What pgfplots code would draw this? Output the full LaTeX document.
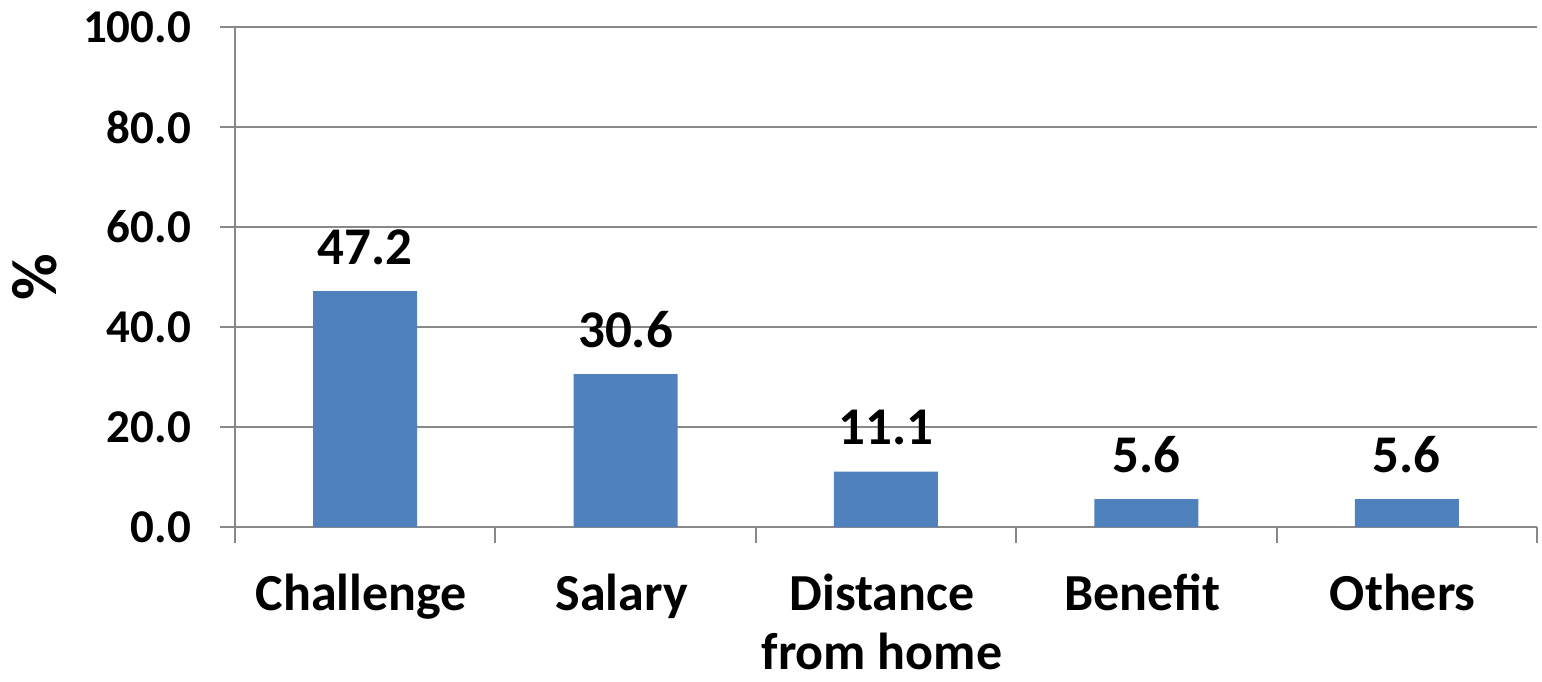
\documentclass[border=0pt]{standalone}
\usepackage{pgfplots}
\pgfplotsset{compat=1.18}
\usepackage{fontspec}
\setmainfont{Carlito}
\definecolor{barblue}{HTML}{4F81BD}
\definecolor{gridgray}{HTML}{888888}
\begin{document}
\begin{tikzpicture}
\useasboundingbox (-117.5pt,-77pt) rectangle (653.5pt,263.5pt);
\begin{axis}[
  at={(0,0)}, anchor=south west,
  scale only axis, width=651pt, height=250pt,
  /pgf/number format/assume math mode=true,
  xmin=-0.5, xmax=4.5, ymin=0, ymax=100,
  ybar, bar width=52pt,
  xtick={0,1,2,3,4},
  xticklabels={Challenge,Salary,{Distance\\from home},Benefit,Others},
  major x tick style={draw=none},
  minor xtick={-0.5,0.5,1.5,2.5,3.5,4.5},
  minor x tick style={gridgray, line width=1pt},
  minor tick length=8pt,
  xtick align=outside,
  ytick={0,20,40,60,80,100},
  ytick align=outside,
  major tick length=7.5pt,
  major y tick style={gridgray, line width=1pt},
  ymajorgrids,
  grid style={gridgray, line width=1pt},
  axis line style={gridgray, line width=1pt},
  axis x line*=bottom, axis y line*=left,
  yticklabel style={/pgf/number format/fixed,/pgf/number format/zerofill,/pgf/number format/precision=1,
    font=\fontsize{23.5}{28}\selectfont\bfseries, xshift=-11pt},
  xticklabel style={font=\fontsize{26}{29.5}\selectfont\bfseries, align=center, inner sep=0pt, yshift=-16pt, xshift=-2pt},
  ylabel={\%},
  ylabel style={font=\fontsize{32}{36}\selectfont\bfseries, at={(rel axis cs:0,0.5)}, yshift=100pt, anchor=center},
  nodes near coords,
  nodes near coords style={/pgf/number format/fixed,/pgf/number format/zerofill,/pgf/number format/precision=1,
    font=\fontsize{26.5}{30}\selectfont\bfseries, inner sep=0pt, yshift=13pt, black},
  clip=false,
]
\addplot[fill=barblue, draw=none] coordinates {(0,47.2) (1,30.6) (2,11.1) (3,5.6) (4,5.6)};
\end{axis}
\end{tikzpicture}
\end{document}
